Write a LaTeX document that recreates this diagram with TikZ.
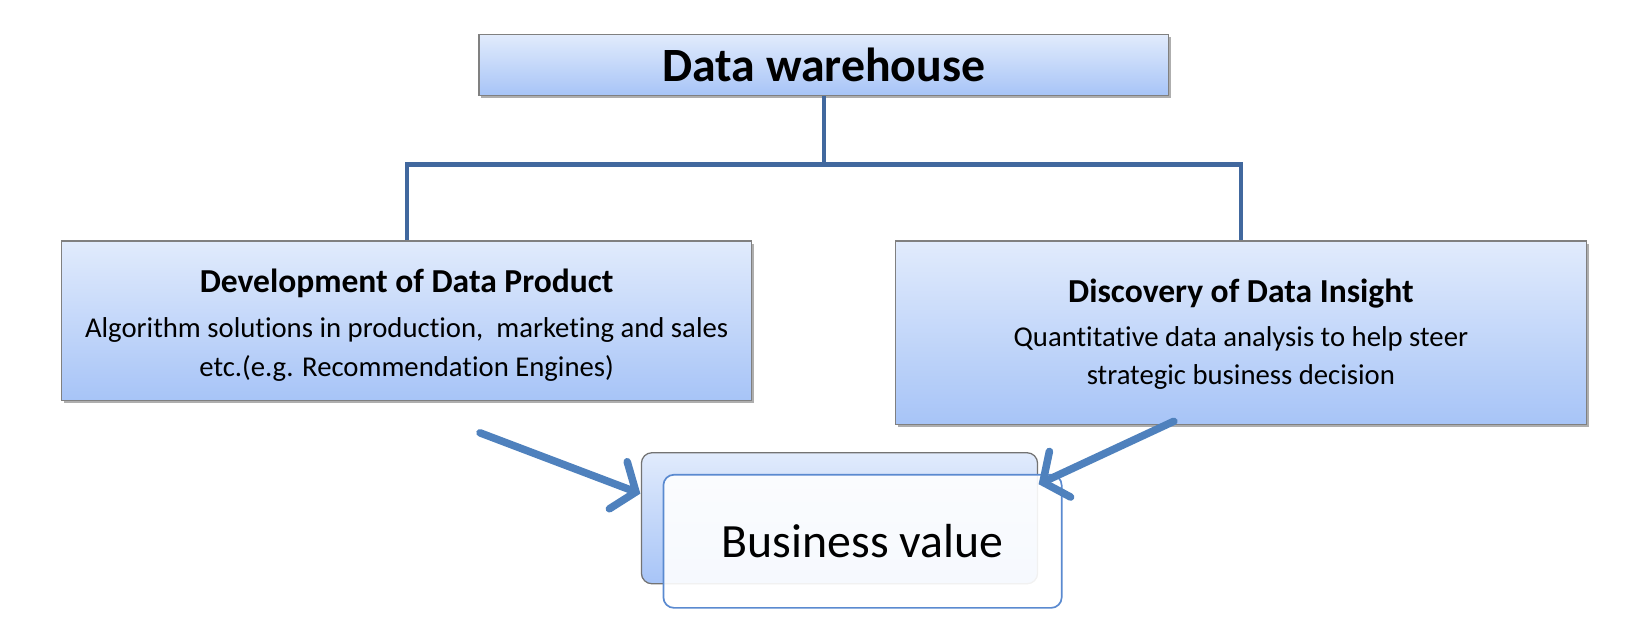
\documentclass[tikz,border=0pt]{standalone}
\usepackage{fontspec}
\setmainfont{Carlito}[Ligatures={NoCommon,NoContextual}]
\usetikzlibrary{arrows.meta,shadows}
\definecolor{boxtop}{HTML}{E1EBFC}
\definecolor{boxbot}{HTML}{A7C4F7}
\definecolor{conn}{HTML}{41689E}
\definecolor{arr}{HTML}{4F81BD}
\definecolor{frontborder}{HTML}{5A8AD0}
\begin{document}
\begin{tikzpicture}[x=0.5pt,y=-0.5pt,
  gbox/.style={draw=black!50, line width=0.6pt, top color=boxtop, bottom color=boxbot,
    inner sep=0pt, drop shadow={shadow xshift=1.2pt, shadow yshift=-1.2pt, opacity=0.45, fill=black!70}},
  titletext/.style={font=\fontsize{16}{20}\selectfont\bfseries},
  bodytext/.style={font=\fontsize{13.7}{18.5}\selectfont, align=center},
  connline/.style={draw=conn, line width=2pt},
  bigarrow/.style={draw=arr, line width=3.6pt, line cap=round, -{Straight Barb[length=9pt,width=24pt,line cap=round]}}
]
\useasboundingbox (0,0) rectangle (1561,608);

% top box
\node[gbox, minimum width=329pt, minimum height=29pt, font=\fontsize{22.8}{27}\selectfont\bfseries] (dw) at (786,62) {Data warehouse};

% left box
\node[gbox, minimum width=329pt, minimum height=76pt] (dp) at (388,306) {};
\node[titletext] (dpt) at (388,270) {Development of Data Product};
\node[bodytext] (dpb) at (388,333.5) {Algorithm solutions in production,~ marketing and sales\\etc.(e.g. Recommendation Engines)};

% right box
\node[gbox, minimum width=329.5pt, minimum height=87.5pt] (di) at (1184,317.5) {};
\node[titletext] (dit) at (1184,280) {Discovery of Data Insight};
\node[bodytext] (dib) at (1184,341.5) {Quantitative data analysis to help steer\\strategic business decision};

% connectors
\coordinate (mid) at (786,157);
\draw[connline] (dw.south) -- (mid);
\draw[connline] (dp.north) -- (dp.north |- mid) -- (di.north |- mid) -- (di.north);

% business value boxes
\node[draw=black!55, line width=0.6pt, rounded corners=5pt, top color=boxtop, bottom color=boxbot,
  minimum width=189pt, minimum height=62.5pt, inner sep=0pt] (bvback) at (801,494.5) {};
\node[draw=frontborder, line width=0.8pt, rounded corners=5pt, fill=white, fill opacity=0.9, text opacity=1,
  minimum width=190pt, minimum height=63.5pt, inner sep=0pt, font=\fontsize{22.8}{27}\selectfont] (bv) at (823,516.5) {Business value};

% arrows
\coordinate (la) at (458,413);
\coordinate (lb) at (611,471);
\coordinate (ra) at (1120,402);
\coordinate (rb) at (991,462);
\draw[bigarrow] (la) -- (lb);
\draw[bigarrow] (ra) -- (rb);
\end{tikzpicture}
\end{document}
